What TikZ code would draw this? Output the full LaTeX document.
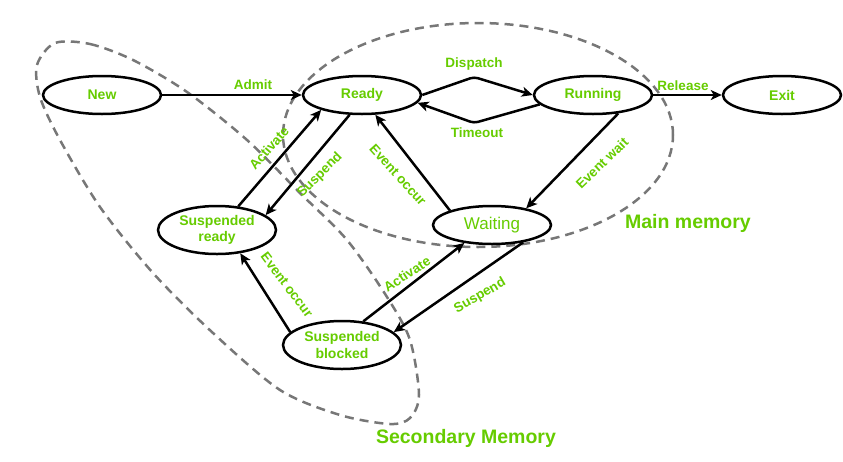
\documentclass[tikz,border=0pt]{standalone}
\usepackage{fontspec}
\setmainfont{Liberation Sans}
\usepackage{tikz}
\usetikzlibrary{shapes,arrows.meta}
\definecolor{lime}{HTML}{66CC00}
\definecolor{memgray}{HTML}{777777}

\begin{document}
\begin{tikzpicture}[x=1pt,y=-1pt,
  state/.style={ellipse,draw=black,line width=2.5pt,fill=white,minimum width=118pt,minimum height=38pt,inner sep=0pt,align=center,text=lime,font=\bfseries\fontsize{14}{16.5}\selectfont},
  tall/.style={minimum height=48pt},
  lbl/.style={inner sep=0pt,text=lime,font=\bfseries\fontsize{13.5}{16}\selectfont},
  memlbl/.style={inner sep=0pt,text=lime,font=\bfseries\fontsize{19.5}{22}\selectfont},
  edge/.style={line width=2.5pt,-{Stealth[length=11pt,width=10pt,inset=3pt]}},
  region/.style={draw=memgray,line width=2.5pt,dash pattern=on 9pt off 6pt}]
\useasboundingbox (0,0) rectangle (843,461);
%Memory Regions
\draw [region] (478,135) ellipse [x radius=195pt, y radius=112pt];
\draw [region] plot [smooth cycle] coordinates {(55,43) (90,44) (133,60) (187,92) (247,140) (300,193) (347,240) (387,297) (410,340) (419,395) (410,418) (390,424) (340,415) (280,390) (213,333) (153,273) (100,207) (60,140) (40,97) (37,65)};
\node at (688,223) [memlbl] (MainLbl) {Main memory};
\node at (466,438) [memlbl] (SecLbl) {Secondary Memory};
%Node Coordinates
\node at (102,95) [state] (New) {New};
\node at (362,95) [state] (Ready) {Ready};
\node at (593,95) [state] (Running) {Running};
\node at (782,95) [state] (Exit) {Exit};
\node at (217,230) [state,tall] (SReady) {Suspended\\ready};
\node at (492,225) [state,font=\fontsize{17}{20}\selectfont] (Waiting) {Waiting};
\node at (342,345) [state,tall] (SBlocked) {Suspended\\blocked};
\coordinate (DispTop) at (474,77);
\coordinate (TimeBot) at (474,123);
%connections
\draw [edge] (New) -- (Ready);
\draw [edge,rounded corners=4pt] (Ready.east) -- (DispTop) -- (Running.west);
\draw [edge,rounded corners=4pt] (Running.190) -- (TimeBot) -- (Ready.-8);
\draw [edge] (Running) -- (Exit);
\draw [edge] (Running.-36) -- (Waiting.26);
\draw [edge] (Waiting.161) -- (Ready.-56);
\draw [edge] (Ready.238) -- (SReady.17);
\draw [edge] (SReady.48) -- (Ready.200);
\draw [edge] (SBlocked.166) -- (SReady.-45);
\draw [edge] (SBlocked.48) -- (Waiting.213);
\draw [edge] (Waiting.-29) -- (SBlocked.14);
%Edge Labels
\node at (253,85) [lbl] (AdmitLbl) {Admit};
\node at (474,64) [lbl] (DispatchLbl) {Dispatch};
\node at (477,133) [lbl] (TimeoutLbl) {Timeout};
\node at (683,86) [lbl] (ReleaseLbl) {Release};
\node at (602,163) [lbl,rotate=44] (WaitLbl) {Event wait};
\node at (398,175) [lbl,rotate=-48] (OccurLbl) {Event occur};
\node at (320,175) [lbl,rotate=45] (SuspLbl) {Suspend};
\node at (269,148) [lbl,rotate=49] (ActLbl) {Activate};
\node at (287,285) [lbl,rotate=-53] (BOccurLbl) {Event occur};
\node at (407,274) [lbl,rotate=33] (BActLbl) {Activate};
\node at (480,296) [lbl,rotate=30] (BSuspLbl) {Suspend};
\end{tikzpicture}
\end{document}
